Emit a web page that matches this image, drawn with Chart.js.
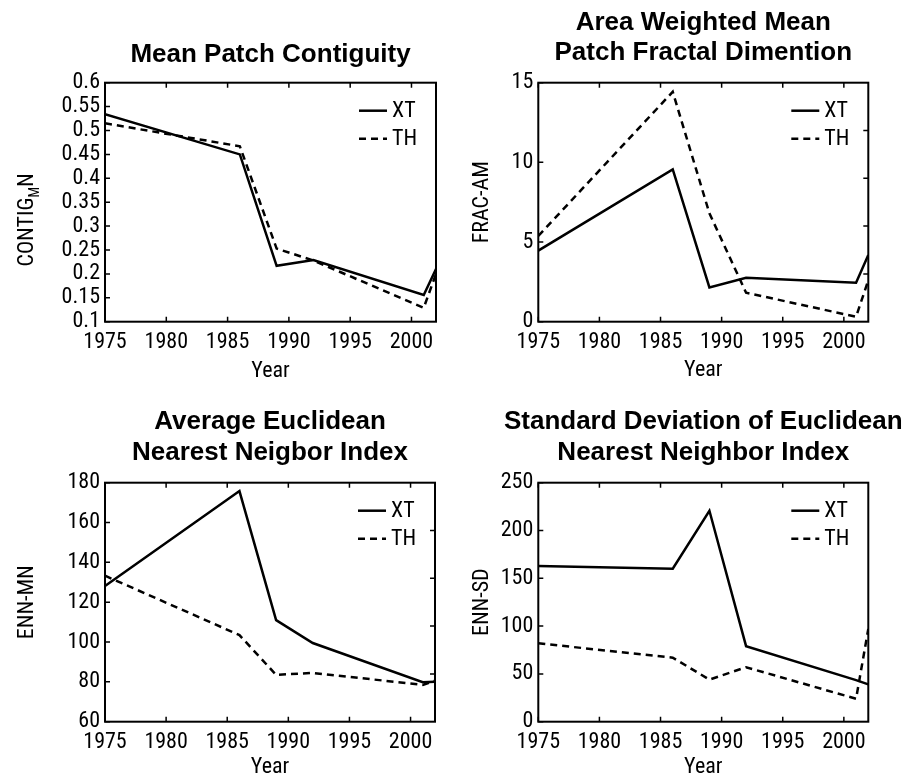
<!DOCTYPE html>
<html>
<head>
<meta charset="utf-8">
<script src="https://cdn.jsdelivr.net/npm/chart.js@4.4.1/dist/chart.umd.min.js"></script>
<style>
  html, body { margin: 0; padding: 0; background: #fff; }
  #wrap { position: relative; width: 912px; height: 779px; overflow: hidden; }
  canvas { position: absolute; }
</style>
</head>
<body>
<div id="wrap">
  <canvas id="contigChart" width="456" height="390" style="left:0;top:0"></canvas>
  <canvas id="fracChart" width="456" height="390" style="left:456px;top:0"></canvas>
  <canvas id="ennMnChart" width="456" height="389" style="left:0;top:390px"></canvas>
  <canvas id="ennSdChart" width="456" height="389" style="left:456px;top:390px"></canvas>
</div>
<script>
// data
const years = [1975, 1986, 1989, 1992, 2001, 2002];
const yearTicks = [1975, 1980, 1985, 1990, 1995, 2000];
const seriesNames = ["XT", "TH"];

const contigXT = [0.534, 0.450, 0.217, 0.229, 0.156, 0.210];
const contigTH = [0.515, 0.467, 0.253, 0.228, 0.129, 0.200];
const contigTicks = [0.1, 0.15, 0.2, 0.25, 0.3, 0.35, 0.4, 0.45, 0.5, 0.55, 0.6];

const fracXT = [4.46, 9.56, 2.15, 2.76, 2.45, 4.18];
const fracTH = [5.38, 14.43, 6.8, 1.82, 0.31, 2.6];
const fracTicks = [0, 5, 10, 15];
const fracRightTicks = [3, 6, 9, 12];   // stray marks on the right edge

const ennMnXT = [128.1, 175.8, 111, 99.5, 79.8, 80];
const ennMnTH = [133.3, 103.5, 83.5, 84.5, 78.5, 80.6];
const ennMnTicks = [60, 80, 100, 120, 140, 160, 180];
const ennMnRightTicks = [84, 108, 132, 156];

const ennSdXT = [162.8, 160, 220.7, 79, 43.5, 39];
const ennSdTH = [82, 67, 44, 57, 24, 97];
const ennSdTicks = [0, 50, 100, 150, 200, 250];

const narrow = "'Roboto Condensed', 'DejaVu Sans Condensed', sans-serif";
const boldFont = "bold 26px 'Liberation Sans', Arial, sans-serif";
const fontSize = 22;

// box + inward ticks, matlab style
const framePlugin = {
  id: "frame",
  afterDraw(chart, args, opts) {
    const { ctx, chartArea: a, scales } = chart;
    ctx.save();
    ctx.strokeStyle = "#000";
    ctx.lineWidth = 2;
    ctx.strokeRect(a.left, a.top, a.right - a.left, a.bottom - a.top);
    ctx.lineWidth = 1.5;
    ctx.beginPath();
    scales.x.ticks.forEach(t => {
      const px = scales.x.getPixelForValue(t.value);
      ctx.moveTo(px, a.bottom); ctx.lineTo(px, a.bottom - 5);
      ctx.moveTo(px, a.top); ctx.lineTo(px, a.top + 5);
    });
    scales.y.ticks.forEach(t => {
      const py = scales.y.getPixelForValue(t.value);
      ctx.moveTo(a.left, py); ctx.lineTo(a.left + 5, py);
    });
    (opts.right || []).forEach(v => {
      const py = scales.y.getPixelForValue(v);
      ctx.moveTo(a.right, py); ctx.lineTo(a.right - 5, py);
    });
    ctx.stroke();
    ctx.restore();
  }
};

// legend drawn inside the plot, top right
const insideLegend = {
  id: "insideLegend",
  afterDraw(chart) {
    const { ctx, chartArea: a } = chart;
    ctx.save();
    ctx.font = fontSize + "px " + narrow;
    ctx.textBaseline = "middle";
    ctx.fillStyle = "#000";
    chart.data.datasets.forEach((ds, i) => {
      const y = a.top + 28 + i * 28;
      ctx.strokeStyle = "#000";
      ctx.lineWidth = ds.borderWidth;
      ctx.setLineDash(ds.borderDash || []);
      ctx.beginPath();
      ctx.moveTo(a.right - 77, y);
      ctx.lineTo(a.right - 49, y);
      ctx.stroke();
      ctx.setLineDash([]);
      ctx.fillText(ds.label, a.right - 44, y + 1);
    });
    ctx.restore();
  }
};

const panelTitle = {
  id: "panelTitle",
  afterDraw(chart, args, opts) {
    const { ctx, chartArea: a } = chart;
    ctx.save();
    ctx.font = boldFont;
    ctx.textAlign = "center";
    ctx.textBaseline = "middle";
    ctx.fillStyle = "#000";
    opts.lines.forEach((t, i) => ctx.fillText(t, (a.left + a.right) / 2, opts.ys[i]));
    ctx.restore();
  }
};

// y label with a subscript, e.g. CONTIG_MN
const subLabel = {
  id: "subLabel",
  afterDraw(chart, args, opts) {
    if (!opts.parts) return;
    const { ctx } = chart;
    ctx.save();
    ctx.translate(opts.x, opts.y);
    ctx.rotate(-Math.PI / 2);
    ctx.fillStyle = "#000";
    ctx.textBaseline = "middle";
    const big = fontSize + "px " + narrow, small = "14px " + narrow;
    let w = 0;
    opts.parts.forEach(p => { ctx.font = p.sub ? small : big; w += ctx.measureText(p.text).width; });
    let x = -w / 2;
    opts.parts.forEach(p => {
      ctx.font = p.sub ? small : big;
      ctx.fillText(p.text, x, p.sub ? 8 : 0);
      x += ctx.measureText(p.text).width;
    });
    ctx.restore();
  }
};

function makeChart(id, g) {
  const canvas = document.getElementById(id);
  const W = canvas.width, H = canvas.height;
  const tickFont = { family: narrow, size: fontSize, lineHeight: 1.2 };
  return new Chart(canvas, {
    type: "line",
    data: {
      datasets: [
        { label: seriesNames[0], data: years.map((x, i) => ({ x, y: g.xt[i] })),
          borderColor: "#000", borderWidth: 2.5, pointRadius: 0, tension: 0, fill: false },
        { label: seriesNames[1], data: years.map((x, i) => ({ x, y: g.th[i] })),
          borderColor: "#000", borderWidth: 2.5, borderDash: [7, 5], pointRadius: 0, tension: 0, fill: false }
      ]
    },
    options: {
      responsive: false,
      animation: false,
      events: [],
      layout: { padding: { top: g.top, right: W - g.right, left: 0, bottom: 0 } },
      plugins: {
        legend: { display: false },
        tooltip: { enabled: false },
        frame: { right: g.rightTicks },
        panelTitle: { lines: g.title, ys: g.titleYs },
        subLabel: g.subLabel || {}
      },
      scales: {
        x: {
          type: "linear", min: 1975, max: 2002,
          afterBuildTicks: s => { s.ticks = yearTicks.map(v => ({ value: v })); },
          afterFit: s => { s.height = H - g.bottom; },
          grid: { display: false, drawTicks: false },
          border: { display: false },
          ticks: { padding: 8, font: tickFont, color: "#000", maxRotation: 0, autoSkip: false,
                   callback: v => String(v) },
          title: { display: true, text: "Year", color: "#000",
                   font: { family: narrow, size: fontSize, lineHeight: 1 },
                   padding: { top: 0, bottom: g.yearPad } }
        },
        y: {
          type: "linear", min: g.ticks[0], max: g.ticks[g.ticks.length - 1],
          afterBuildTicks: s => { s.ticks = g.ticks.map(v => ({ value: v })); },
          afterFit: s => { s.width = g.left; },
          grid: { display: false, drawTicks: false },
          border: { display: false },
          ticks: { padding: 5, font: tickFont, color: "#000", autoSkip: false,
                   callback: v => String(+v.toFixed(2)) },
          title: { display: !g.subLabel, text: g.yTitle, color: "#000",
                   font: { family: narrow, size: fontSize, lineHeight: 1 },
                   padding: { top: g.yTitlePad, bottom: 0 } }
        }
      }
    },
    plugins: [framePlugin, insideLegend, panelTitle, subLabel]
  });
}

makeChart("contigChart", {
  xt: contigXT, th: contigTH, ticks: contigTicks,
  left: 105, right: 436, top: 82.7, bottom: 321.7, yearPad: 8,
  title: ["Mean Patch Contiguity"], titleYs: [55],
  subLabel: { x: 27, y: 220, parts: [{ text: "CONTIG" }, { text: "M", sub: true }, { text: "N" }] }
});

makeChart("fracChart", {
  xt: fracXT, th: fracTH, ticks: fracTicks, rightTicks: fracRightTicks,
  yTitle: "FRAC-AM", yTitlePad: 15,
  left: 82.3, right: 412.3, top: 82.7, bottom: 321.7, yearPad: 9,
  title: ["Area Weighted Mean", "Patch Fractal Dimention"], titleYs: [23, 53]
});

makeChart("ennMnChart", {
  xt: ennMnXT, th: ennMnTH, ticks: ennMnTicks, rightTicks: ennMnRightTicks,
  yTitle: "ENN-MN", yTitlePad: 16,
  left: 105, right: 435, top: 92.7, bottom: 331.7, yearPad: 1,
  title: ["Average Euclidean", "Nearest Neigbor Index"], titleYs: [31.7, 63.3]
});

makeChart("ennSdChart", {
  xt: ennSdXT, th: ennSdTH, ticks: ennSdTicks, yTitle: "ENN-SD", yTitlePad: 15,
  left: 82.3, right: 412.3, top: 92.7, bottom: 331.7, yearPad: 1,
  title: ["Standard Deviation of Euclidean", "Nearest Neighbor Index"], titleYs: [31.7, 63.3]
});
</script>
</body>
</html>
